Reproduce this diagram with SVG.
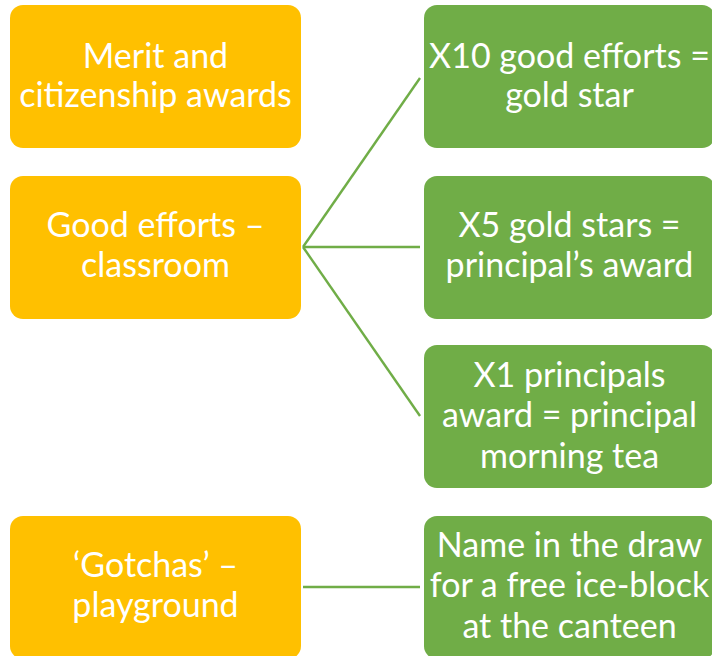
<svg xmlns="http://www.w3.org/2000/svg" width="712" height="656" viewBox="0 0 712 656">
<style>
.o{fill:#FFC000}
.g{fill:#70AD47}
.t{font-family:Lato,"Liberation Sans",sans-serif;font-size:34px;fill:#FFFFFF;text-anchor:middle}
.c{stroke:#70AD47;stroke-width:2.4;fill:none}
</style>
<rect width="712" height="656" fill="#FFFFFF"/>
<g id="connectors">
<line class="c" x1="303" y1="247" x2="420" y2="78"/>
<line class="c" x1="303" y1="247" x2="420" y2="247"/>
<line class="c" x1="303" y1="247" x2="420" y2="416"/>
<line class="c" x1="303" y1="587" x2="420" y2="587"/>
</g>
<g id="merit">
<rect class="o" x="10" y="5" width="291" height="143" rx="13"/>
<text class="t" x="155.5" y="68">Merit and</text>
<text class="t" x="155.5" y="107">citizenship awards</text>
</g>
<g id="good-efforts">
<rect class="o" x="10" y="176" width="291" height="143" rx="13"/>
<text class="t" x="155.5" y="237">Good efforts –</text>
<text class="t" x="155.5" y="277">classroom</text>
</g>
<g id="gotchas">
<rect class="o" x="10" y="516" width="291" height="143" rx="13"/>
<text class="t" x="155.5" y="577">‘Gotchas’ –</text>
<text class="t" x="155.5" y="617">playground</text>
</g>
<g id="gold-star">
<rect class="g" x="424" y="5" width="291" height="143" rx="13"/>
<text class="t" x="569.5" y="68">X10 good efforts =</text>
<text class="t" x="569.5" y="107">gold star</text>
</g>
<g id="principals-award">
<rect class="g" x="424" y="176" width="291" height="143" rx="13"/>
<text class="t" x="569.5" y="237">X5 gold stars =</text>
<text class="t" x="569.5" y="277">principal’s award</text>
</g>
<g id="morning-tea">
<rect class="g" x="424" y="345" width="291" height="143" rx="13"/>
<text class="t" x="569.5" y="387">X1 principals</text>
<text class="t" x="569.5" y="427">award = principal</text>
<text class="t" x="569.5" y="468">morning tea</text>
</g>
<g id="ice-block">
<rect class="g" x="424" y="516" width="291" height="143" rx="13"/>
<text class="t" x="569.5" y="557">Name in the draw</text>
<text class="t" x="569.5" y="597">for a free ice-block</text>
<text class="t" x="569.5" y="638">at the canteen</text>
</g>
</svg>
